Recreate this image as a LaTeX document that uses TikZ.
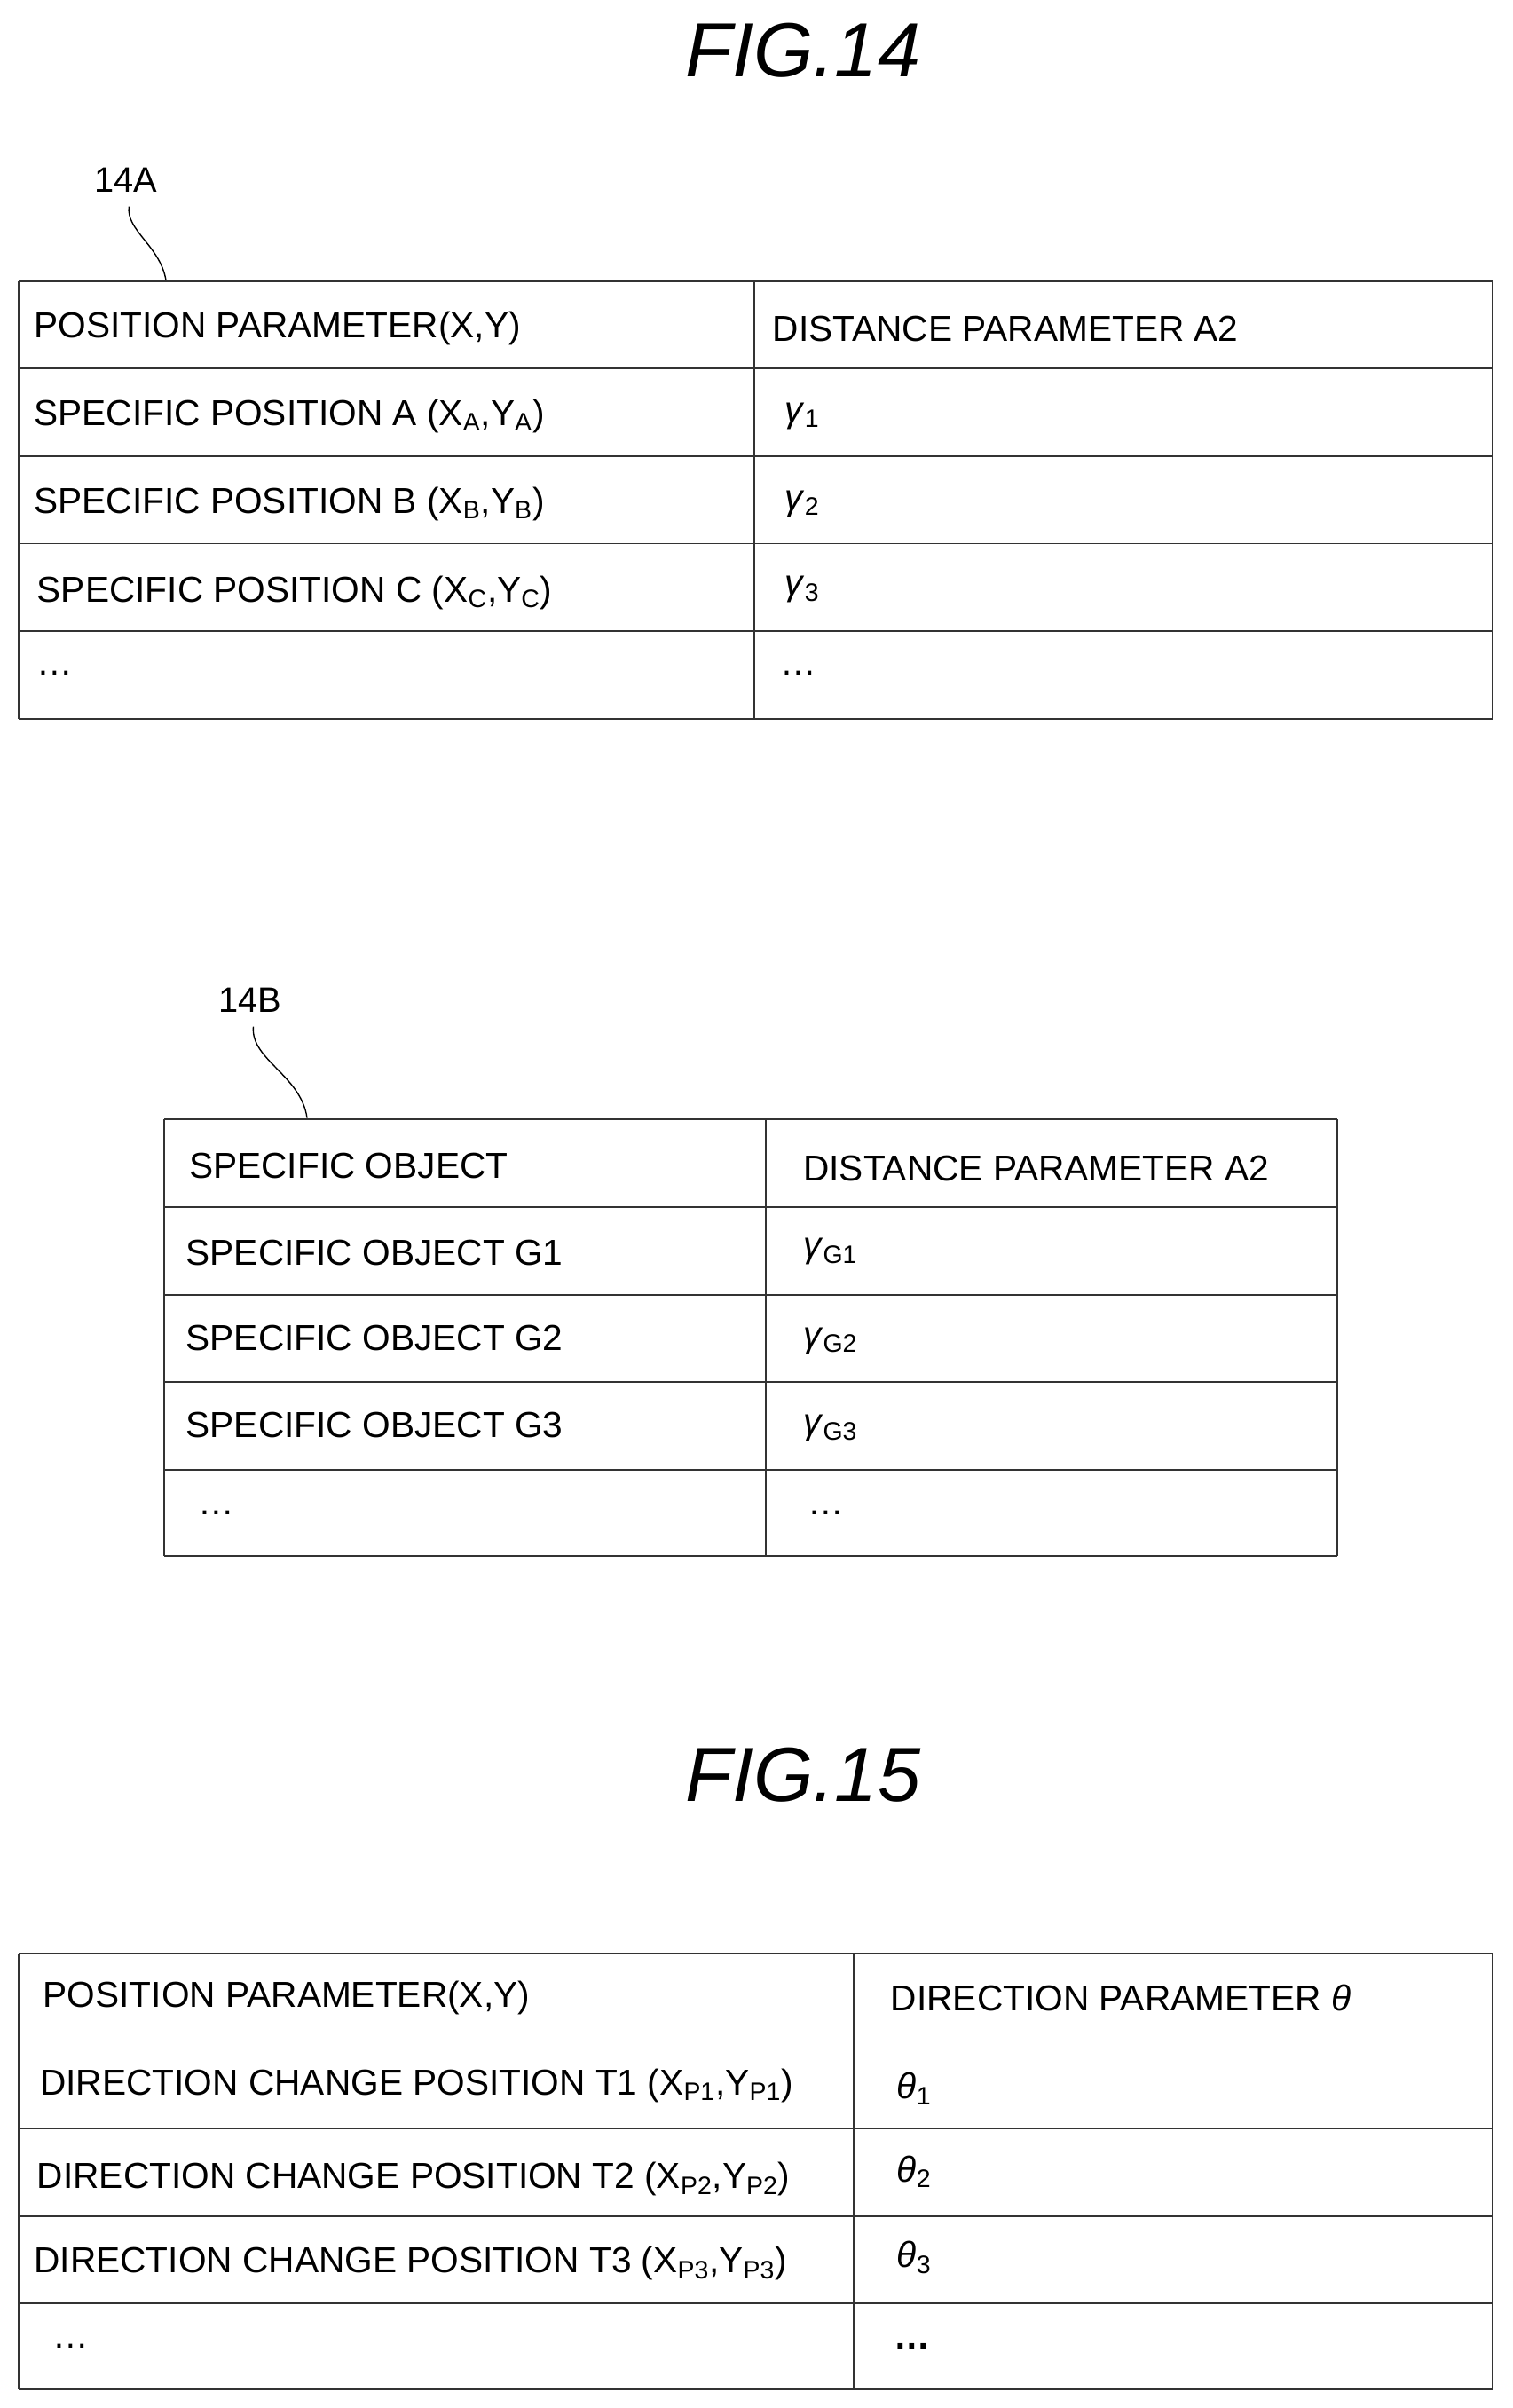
\documentclass[tikz,border=0pt]{standalone}
\usepackage{fontspec}
\setmainfont{Liberation Sans}
\usetikzlibrary{positioning}
\newcommand{\sub}[1]{\textsubscript{#1}}
\newcommand{\gm}[1]{\textit{γ}\sub{#1}}
\newcommand{\thet}[1]{\textit{θ}\sub{#1}}
\begin{document}
\begin{tikzpicture}[x=1pt,y=1pt,yscale=-1,
	cell/.style={anchor=west,inner sep=0pt,font=\fontsize{23.5}{26}\selectfont},
	grid/.style={line width=1.1pt,draw=black!80},
	title/.style={font=\fontsize{50}{54}\selectfont\itshape},
	ref/.style={font=\fontsize{23}{25}\selectfont}]
	\useasboundingbox (0,0) rectangle (985,1568);

	% titles
	\node[title] (fig14) at (523,33) {FIG.14};
	\node[title] (fig15) at (523,1156) {FIG.15};

	% table 14A
	\foreach \y in {183,240,297,354,411,468} \draw[grid] (12,\y) -- (972,\y);
	\draw[grid] (12,183) -- (12,468);
	\draw[grid] (491,183) -- (491,468);
	\draw[grid] (972,183) -- (972,468);
	\node[cell] (a1) at (22,214) {POSITION PARAMETER(X,Y)};
	\node[cell] (a2) at (22,271) {SPECIFIC POSITION A (X\sub{A},Y\sub{A})};
	\node[cell] (a3) at (22,328) {SPECIFIC POSITION B (X\sub{B},Y\sub{B})};
	\node[cell] (a4) at (24,386) {SPECIFIC POSITION C (X\sub{C},Y\sub{C})};
	\node[cell] (a5) at (24,438) {\dots};
	\node[cell] (b1) at (503,214) {DISTANCE PARAMETER A2};
	\node[cell] (b2) at (511,271) {\gm{1}};
	\node[cell] (b3) at (511,328) {\gm{2}};
	\node[cell] (b4) at (511,384) {\gm{3}};
	\node[cell] (b5) at (508,438) {\dots};
	\node[ref] (l14a) at (82,117) {14A};
	\coordinate (t14a) at (108,182);
	\draw[line width=0.8pt] (l14a.south) ++(2,6) .. controls (82,150) and (104,160) .. (t14a);

	% table 14B
	\foreach \y in {729,786,843,900,957,1013} \draw[grid] (107,\y) -- (871,\y);
	\draw[grid] (107,729) -- (107,1013);
	\draw[grid] (499,729) -- (499,1013);
	\draw[grid] (871,729) -- (871,1013);
	\node[cell] (c1) at (123,759) {SPECIFIC OBJECT};
	\node[cell] (c2) at (121,816) {SPECIFIC OBJECT G1};
	\node[cell] (c3) at (121,871) {SPECIFIC OBJECT G2};
	\node[cell] (c4) at (121,928) {SPECIFIC OBJECT G3};
	\node[cell] (c5) at (129,985) {\dots};
	\node[cell] (d1) at (523,761) {DISTANCE PARAMETER A2};
	\node[cell] (d2) at (523,815) {\gm{G1}};
	\node[cell] (d3) at (523,873) {\gm{G2}};
	\node[cell] (d4) at (523,930) {\gm{G3}};
	\node[cell] (d5) at (526,985) {\dots};
	\node[ref] (l14b) at (163,651) {14B};
	\coordinate (t14b) at (200,728);
	\draw[line width=0.8pt] (l14b.south) ++(2,6) .. controls (163,690) and (196,700) .. (t14b);

	% table 15
	\foreach \y in {1272,1329,1386,1443,1500,1556} \draw[grid] (12,\y) -- (972,\y);
	\draw[grid] (12,1272) -- (12,1556);
	\draw[grid] (556,1272) -- (556,1556);
	\draw[grid] (972,1272) -- (972,1556);
	\node[cell] (e1) at (28,1301) {POSITION PARAMETER(X,Y)};
	\node[cell] (e2) at (26,1358) {DIRECTION CHANGE POSITION T1 (X\sub{P1},Y\sub{P1})};
	\node[cell] (e3) at (24,1419) {DIRECTION CHANGE POSITION T2 (X\sub{P2},Y\sub{P2})};
	\node[cell] (e4) at (22,1474) {DIRECTION CHANGE POSITION T3 (X\sub{P3},Y\sub{P3})};
	\node[cell] (e5) at (34,1528) {\dots};
	\node[cell] (f1) at (580,1301) {DIRECTION PARAMETER \textit{θ}};
	\node[cell] (f2) at (584,1360) {\thet{1}};
	\node[cell] (f3) at (584,1414) {\thet{2}};
	\node[cell] (f4) at (584,1470) {\thet{3}};
	\node[cell] (f5) at (582,1528) {\textbf{\dots}};
\end{tikzpicture}
\end{document}
